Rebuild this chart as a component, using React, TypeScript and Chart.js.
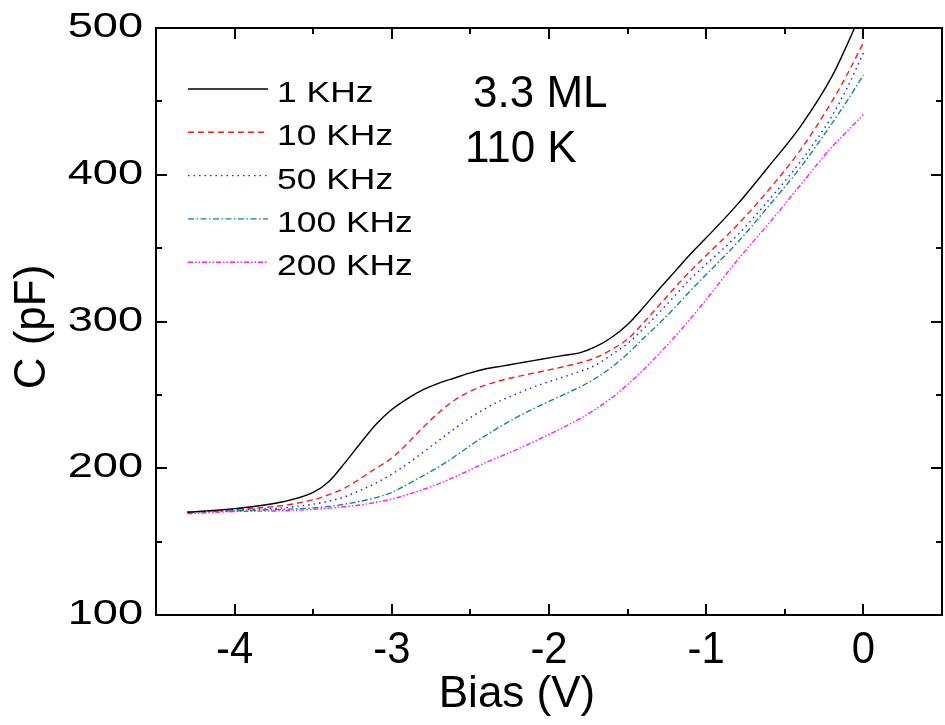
import { useEffect, useRef } from "react";
import { Chart, registerables } from "chart.js";

Chart.register(...registerables);

// Bias sweep (V) shared by every frequency trace
const BIAS = [
  -4.3, -4.0, -3.7, -3.5, -3.4, -3.3, -3.2, -3.1, -3.0, -2.9, -2.8, -2.7, -2.6, -2.5, -2.4, -2.3,
  -2.2, -2.1, -2.0, -1.9, -1.8, -1.7, -1.6, -1.5, -1.4, -1.3, -1.2, -1.1, -1.0, -0.8, -0.6, -0.4,
  -0.2, -0.1, 0,
];

// Capacitance (pF) at each bias, one list per measurement frequency
const C_1KHZ = [
  170, 172.5, 177, 183.5, 191, 203.5, 217, 230, 240, 247.5, 253.5, 258, 261.5, 265, 267.8, 269.6,
  271.5, 273.3, 275.2, 277, 278.8, 283, 289.3, 298, 309.5, 322, 334, 346, 357, 380, 406, 433,
  467, 489.5, 514,
];
const C_10KHZ = [
  170, 172, 174.5, 178.5, 182, 186.5, 193, 200, 207, 217, 228, 238, 246.5, 252.5, 256.8, 260,
  262.5, 264.8, 267, 269.4, 272, 275.5, 281, 288, 299, 311, 323, 334.5, 345, 366, 390, 417,
  450, 469, 490,
];
const C_50KHZ = [
  170, 171.5, 173, 175.5, 177.5, 180.5, 185, 190, 196, 203, 211, 219, 227, 234.5, 241, 246.5,
  251, 255.3, 259, 262.5, 266, 270.5, 277.5, 285, 295, 306, 317.5, 329, 339, 359, 383, 409,
  440, 460, 483,
];
const C_100KHZ = [
  170, 171, 172, 173, 174, 175.5, 177.5, 180, 183.5, 189, 195, 201, 208, 215.5, 222.5, 229,
  235, 240.5, 245.5, 250.5, 255.5, 261.5, 269, 278, 288.5, 298.5, 309.5, 321, 332, 354, 379, 405,
  435, 451, 468,
];
const C_200KHZ = [
  169, 170.5, 171, 172, 172.8, 173.8, 175, 176.8, 179, 182, 185.5, 189.5, 194, 199, 204, 208.5,
  213, 218, 223, 228.3, 234, 240.5, 248, 257, 267, 278, 289.5, 302, 315, 342, 367, 393,
  419, 430, 441,
];

const SERIES_LABELS = ["1 KHz", "10 KHz", "50 KHz", "100 KHz", "200 KHz"];

// Axis ticks
const X_MAJOR = [-4, -3, -2, -1, 0];
const X_MINOR = [-3.5, -2.5, -1.5, -0.5];
const Y_MAJOR = [100, 200, 300, 400, 500];
const Y_MINOR = [150, 250, 350, 450];

const X_TITLE = "Bias (V)";
const Y_TITLE = "C (pF)";
const NOTES = ["3.3 ML", "110 K"];

const FONT = "'Liberation Sans', Arial, Helvetica, sans-serif";

const STYLES = [
  { color: "#000000", dash: [] as number[] },
  { color: "#ff1a1a", dash: [6, 4] },
  { color: "#1a1aff", dash: [1.5, 4] },
  { color: "#118888", dash: [6, 2.5, 1.5, 2.5] },
  { color: "#ff1aff", dash: [5, 2, 1.5, 2, 1.5, 2] },
];

function stretched(
  ctx: CanvasRenderingContext2D,
  text: string,
  x: number,
  y: number,
  sx: number,
  align: CanvasTextAlign
) {
  ctx.save();
  ctx.translate(x, y);
  ctx.scale(sx, 1);
  ctx.textAlign = align;
  ctx.textBaseline = "alphabetic";
  ctx.fillText(text, 0, 0);
  ctx.restore();
}

// Frame with inward ticks on all four sides, tick labels, titles, key and notes
const decorations = {
  id: "decorations",
  afterDraw(chart: any) {
    const ctx: CanvasRenderingContext2D = chart.ctx;
    const a = chart.chartArea;
    const xs = chart.scales.x;
    const ys = chart.scales.y;
    ctx.save();
    ctx.strokeStyle = "#000";
    ctx.fillStyle = "#000";
    ctx.lineWidth = 2;
    ctx.setLineDash([]);
    ctx.strokeRect(a.left, a.top, a.right - a.left, a.bottom - a.top);

    const seg = (x1: number, y1: number, x2: number, y2: number) => {
      ctx.beginPath();
      ctx.moveTo(x1, y1);
      ctx.lineTo(x2, y2);
      ctx.stroke();
    };
    const xTicks = (vals: number[], len: number) => {
      for (const v of vals) {
        const px = Math.round(xs.getPixelForValue(v));
        seg(px, a.bottom, px, a.bottom - len);
        seg(px, a.top, px, a.top + len);
      }
    };
    const yTicks = (vals: number[], len: number) => {
      for (const v of vals) {
        const py = Math.round(ys.getPixelForValue(v));
        seg(a.left, py, a.left + len, py);
        seg(a.right, py, a.right - len, py);
      }
    };
    xTicks(X_MAJOR, 11);
    xTicks(X_MINOR, 6);
    yTicks(Y_MAJOR, 11);
    yTicks(Y_MINOR, 6);

    // Tick labels
    ctx.font = `44px ${FONT}`;
    for (const v of X_MAJOR) {
      stretched(ctx, String(v), xs.getPixelForValue(v), a.bottom + 48, 0.95, "center");
    }
    ctx.font = `35px ${FONT}`;
    for (const v of Y_MAJOR) {
      stretched(ctx, String(v), a.left - 13, ys.getPixelForValue(v) + 9, 1.29, "right");
    }

    // Axis titles
    ctx.font = `44px ${FONT}`;
    stretched(ctx, X_TITLE, 517, 707, 1, "center");
    ctx.save();
    ctx.translate(45, 327);
    ctx.rotate(-Math.PI / 2);
    ctx.textAlign = "center";
    ctx.textBaseline = "alphabetic";
    ctx.fillText(Y_TITLE, 0, 0);
    ctx.restore();

    // Sample notes
    stretched(ctx, NOTES[0], a.left + 317, a.top + 79, 1, "left");
    stretched(ctx, NOTES[1], a.left + 309, a.top + 134, 1, "left");

    // Key
    ctx.font = `30px ${FONT}`;
    chart.data.datasets.forEach((ds: any, i: number) => {
      const yy = a.top + 61 + i * 43.3;
      ctx.save();
      ctx.strokeStyle = ds.borderColor;
      ctx.lineWidth = ds.borderWidth;
      ctx.setLineDash(ds.borderDash || []);
      seg(a.left + 32, yy, a.left + 112, yy);
      ctx.restore();
      stretched(ctx, ds.label, a.left + 121, yy + 13, 1.18, "left");
    });
    ctx.restore();
  },
};

export default function App() {
  const canvasRef = useRef<HTMLCanvasElement>(null);

  useEffect(() => {
    const canvas = canvasRef.current;
    if (!canvas) return;
    const series = [C_1KHZ, C_10KHZ, C_50KHZ, C_100KHZ, C_200KHZ];
    const chart = new Chart(canvas, {
      type: "line",
      data: {
        datasets: series.map((vals, i) => ({
          label: SERIES_LABELS[i],
          data: BIAS.map((b, j) => ({ x: b, y: vals[j] })),
          borderColor: STYLES[i].color,
          borderDash: STYLES[i].dash,
          borderWidth: 1.4,
          pointRadius: 0,
          fill: false,
          cubicInterpolationMode: "monotone" as const,
        })),
      },
      options: {
        responsive: false,
        animation: false,
        events: [],
        layout: { padding: { left: 156, top: 28, right: 3, bottom: 110 } },
        plugins: {
          legend: { display: false },
          tooltip: { enabled: false },
        },
        scales: {
          x: { type: "linear", min: -4.5, max: 0.5, display: false },
          y: { type: "linear", min: 100, max: 500, display: false },
        },
      },
      plugins: [decorations],
    });
    return () => chart.destroy();
  }, []);

  return (
    <div
      style={{
        position: "fixed",
        left: 0,
        top: 0,
        width: 945,
        height: 725,
        background: "#ffffff",
      }}
    >
      <canvas ref={canvasRef} width={945} height={725} />
    </div>
  );
}
